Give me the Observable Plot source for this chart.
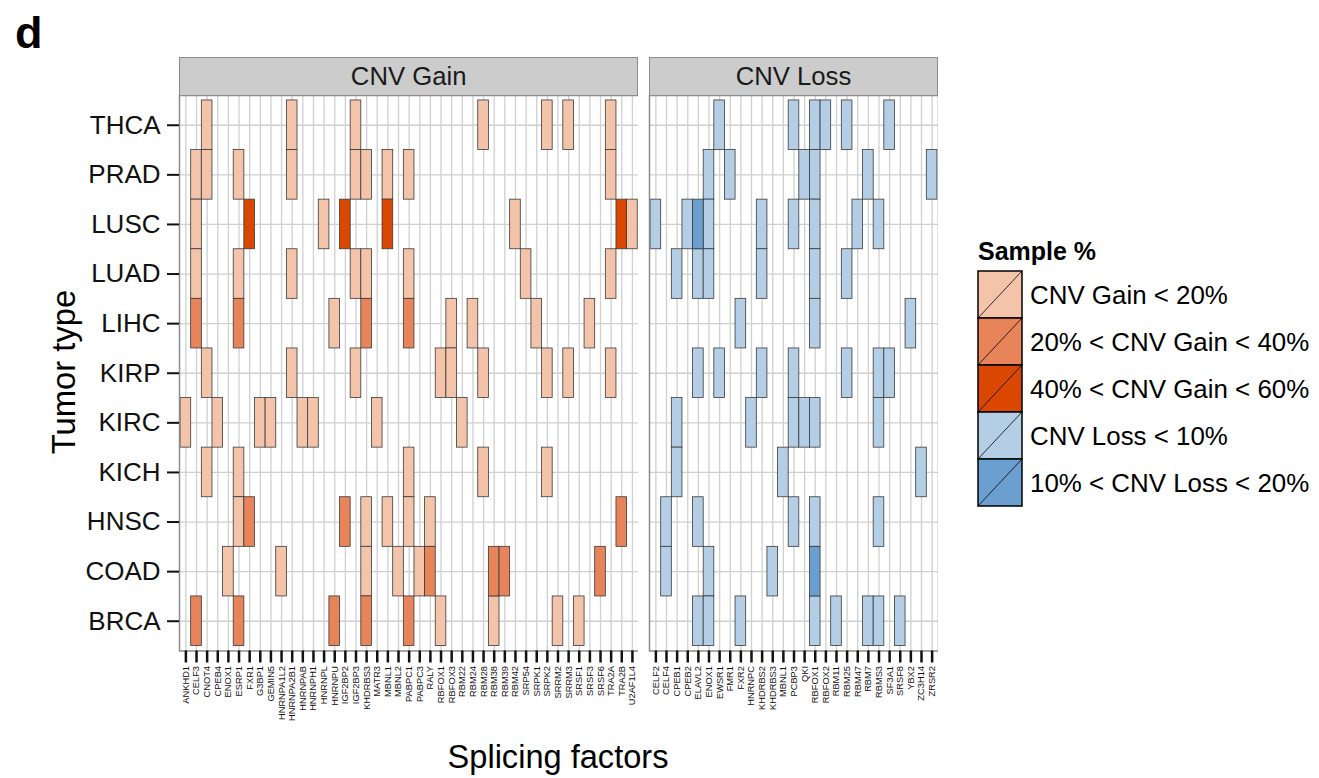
<!DOCTYPE html>
<html><head><meta charset="utf-8">
<script src="https://cdn.jsdelivr.net/npm/d3@7"></script>
<script src="https://cdn.jsdelivr.net/npm/@observablehq/plot@0.6"></script>
<style>
body{margin:0;background:#fff;font-family:"Liberation Sans",Arial,sans-serif;}
#root{position:relative;width:1319px;height:778px;overflow:hidden;background:#fff;}
#root > svg, #root > div{position:absolute;left:0;top:0;}
.strip{background:#cccccc;border:1.5px solid #8c8c8c;box-sizing:border-box;display:flex;align-items:center;justify-content:center;font-size:25.7px;color:#1a1a1a;}
</style></head><body><div id="root"></div>
<script>
// ---- data ----
const tumorTypes = ["THCA","PRAD","LUSC","LUAD","LIHC","KIRP","KIRC","KICH","HNSC","COAD","BRCA"];
const gainGenes = ["ANKHD1","CELF3","CNOT4","CPEB4","ENOX1","ESRP1","FXR1","G3BP1","GEMIN5","HNRNPA1L2","HNRNPA2B1","HNRNPAB","HNRNPH1","HNRNPL","HNRNPU","IGF2BP2","IGF2BP3","KHDRBS3","MATR3","MBNL1","MBNL2","PABPC1","PABPC3","RALY","RBFOX1","RBFOX3","RBM22","RBM24","RBM28","RBM38","RBM39","RBM42","SRP54","SRPK1","SRPK2","SRRM2","SRRM3","SRSF1","SRSF3","SRSF6","TRA2A","TRA2B","U2AF1L4"];
const lossGenes = ["CELF2","CELF4","CPEB1","CPEB2","ELAVL2","ENOX1","EWSR1","FMR1","FXR2","HNRNPC","KHDRBS2","KHDRBS3","MBNL1","PCBP3","QKI","RBFOX1","RBFOX2","RBM11","RBM25","RBM47","RBM7","RBMS3","SF3A1","SRSF8","YBX2","ZC3H14","ZRSR2"];
const levels = ["CNV Gain < 20%","20% < CNV Gain < 40%","40% < CNV Gain < 60%","CNV Loss < 10%","10% < CNV Loss < 20%"];
const levelColors = ["#f4c4aa","#e8845a","#da4700","#b4cee6","#6a9fcf"];

const gainUnder20 = [
  ["THCA", ["CNOT4","HNRNPA2B1","IGF2BP3","RBM28","SRPK2","SRRM3","TRA2A"]],
  ["PRAD", ["CELF3","CNOT4","ESRP1","HNRNPA2B1","IGF2BP3","KHDRBS3","MBNL1","PABPC1","TRA2A"]],
  ["LUSC", ["CELF3","HNRNPL","RBM42","U2AF1L4"]],
  ["LUAD", ["CELF3","ESRP1","HNRNPA2B1","IGF2BP3","KHDRBS3","PABPC1","SRP54","TRA2A"]],
  ["LIHC", ["HNRNPU","RBFOX3","RBM24","SRPK1","SRSF3"]],
  ["KIRP", ["CNOT4","HNRNPA2B1","IGF2BP3","RBFOX1","RBFOX3","RBM28","SRPK2","SRRM3","TRA2A"]],
  ["KIRC", ["ANKHD1","CPEB4","G3BP1","GEMIN5","HNRNPAB","HNRNPH1","MATR3","RBM22"]],
  ["KICH", ["CNOT4","ESRP1","PABPC1","RBM28","SRPK2"]],
  ["HNSC", ["ESRP1","KHDRBS3","MBNL1","PABPC1","RALY"]],
  ["COAD", ["ENOX1","HNRNPA1L2","KHDRBS3","MBNL2","PABPC3"]],
  ["BRCA", ["RBFOX1","RBM38","SRRM2","SRSF1"]]
];
const gain20to40 = [
  ["LIHC", ["CELF3","ESRP1","KHDRBS3","PABPC1"]],
  ["HNSC", ["FXR1","IGF2BP2","TRA2B"]],
  ["COAD", ["RALY","RBM38","RBM39","SRSF6"]],
  ["BRCA", ["CELF3","ESRP1","HNRNPU","KHDRBS3","PABPC1"]]
];
const gain40to60 = [
  ["LUSC", ["FXR1","IGF2BP2","MBNL1","TRA2B"]]
];
const lossUnder10 = [
  ["THCA", ["EWSR1","PCBP3","RBFOX1","RBFOX2","RBM25","SF3A1"]],
  ["PRAD", ["ENOX1","FMR1","QKI","RBFOX1","RBM7","ZRSR2"]],
  ["LUSC", ["CELF2","CPEB2","ENOX1","KHDRBS2","PCBP3","RBFOX1","RBM47","RBMS3"]],
  ["LUAD", ["CPEB1","ELAVL2","ENOX1","KHDRBS2","RBFOX1","RBM25"]],
  ["LIHC", ["FXR2","RBFOX1","YBX2"]],
  ["KIRP", ["ELAVL2","EWSR1","KHDRBS2","PCBP3","RBM25","RBMS3","SF3A1"]],
  ["KIRC", ["CPEB1","HNRNPC","PCBP3","QKI","RBFOX1","RBMS3"]],
  ["KICH", ["CPEB1","MBNL1","ZC3H14"]],
  ["HNSC", ["CELF4","ELAVL2","PCBP3","RBFOX1","RBMS3"]],
  ["COAD", ["CELF4","ENOX1","KHDRBS3"]],
  ["BRCA", ["ELAVL2","ENOX1","FXR2","RBFOX1","RBM11","RBM7","RBMS3","SRSF8"]]
];
const loss10to20 = [
  ["LUSC", ["ELAVL2"]],
  ["COAD", ["RBFOX1"]]
];

// ---- build tables ----
function expand(groups, level) {
  return groups.flatMap(([tumor, genes]) => genes.map(gene => ({tumor, gene, level})));
}
const gainData = [
  ...expand(gainUnder20, levels[0]),
  ...expand(gain20to40, levels[1]),
  ...expand(gain40to60, levels[2])
];
const lossData = [
  ...expand(lossUnder10, levels[3]),
  ...expand(loss10to20, levels[4])
];

const root = document.getElementById("root");
const H = 778, frameTop = 95, frameBottom = 650.5;
const rowInset = (frameBottom - frameTop) / 11.2 * 0.1;
const gridStyle = {stroke: "#d0d0d0", strokeOpacity: 1, strokeWidth: 1.3};

function panel(data, genes, left, right, showY) {
  const colInset = (right - left) / (genes.length + 0.2) * 0.1;
  const marks = [
    Plot.gridX({...gridStyle}),
    Plot.gridY({...gridStyle}),
    Plot.cell(data, {x: "gene", y: "tumor", fill: "level", stroke: "#3a3a3a", strokeWidth: 0.8, inset: 0}),
    Plot.frame({stroke: "#8c8c8c", strokeWidth: 1.5}),
    Plot.axisX({tickSize: 12, tickPadding: 3, tickRotate: -90, fontSize: 9.3, strokeWidth: 2.5, label: null})
  ];
  if (showY) marks.push(Plot.axisY({tickSize: 12, tickPadding: 7, fontSize: 26, strokeWidth: 2, label: null}));
  return Plot.plot({
    width: right, height: H,
    marginLeft: left, marginRight: 0, marginTop: frameTop, marginBottom: H - frameBottom,
    style: {background: "transparent", fontFamily: "Liberation Sans, Arial, sans-serif", color: "#111"},
    x: {type: "band", domain: genes, padding: 0, round: false, insetLeft: colInset, insetRight: colInset},
    y: {type: "band", domain: tumorTypes, padding: 0, round: false, insetTop: rowInset, insetBottom: rowInset, axis: showY ? undefined : null},
    color: {type: "ordinal", domain: levels, range: levelColors},
    marks
  });
}

root.appendChild(panel(gainData, gainGenes, 179, 638.3, true));
root.appendChild(panel(lossData, lossGenes, 649, 938, false));

// strips
function strip(label, left, right) {
  const d = document.createElement("div");
  d.className = "strip";
  d.style.left = left + "px"; d.style.top = "57px";
  d.style.width = (right - left) + "px"; d.style.height = "39px";
  d.textContent = label;
  root.appendChild(d);
}
strip("CNV Gain", 179, 638.3);
strip("CNV Loss", 649, 938);

// overlay: titles and legend
const svg = d3.select(root).append("svg").attr("width", 1319).attr("height", 778)
  .style("font-family", "Liberation Sans, Arial, sans-serif").style("pointer-events", "none");
svg.append("text").attr("x", 15).attr("y", 48).attr("font-size", 45).attr("font-weight", "bold").attr("fill", "#000").text("d");
svg.append("text").attr("transform", "translate(75,372) rotate(-90)").attr("text-anchor", "middle")
  .attr("font-size", 32.8).attr("fill", "#000").text("Tumor type");
svg.append("text").attr("x", 558).attr("y", 768).attr("text-anchor", "middle")
  .attr("font-size", 32.6).attr("fill", "#000").text("Splicing factors");

const lg = svg.append("g");
lg.append("text").attr("x", 978).attr("y", 260).attr("font-size", 25).attr("font-weight", "bold").attr("fill", "#000").text("Sample %");
const keyX = 978, keyW = 44, keyTop = 271, keyH = 47;
levels.forEach((lab, i) => {
  const y = keyTop + i * keyH;
  lg.append("rect").attr("x", keyX).attr("y", y).attr("width", keyW).attr("height", keyH)
    .attr("fill", levelColors[i]).attr("stroke", "#000").attr("stroke-width", 1.5);
  lg.append("line").attr("x1", keyX).attr("y1", y + keyH).attr("x2", keyX + keyW).attr("y2", y)
    .attr("stroke", "#000").attr("stroke-width", 0.8);
  lg.append("text").attr("x", 1030).attr("y", y + keyH / 2).attr("dy", "0.35em")
    .attr("font-size", 25.9).attr("fill", "#000").text(lab);
});
</script></body></html>
